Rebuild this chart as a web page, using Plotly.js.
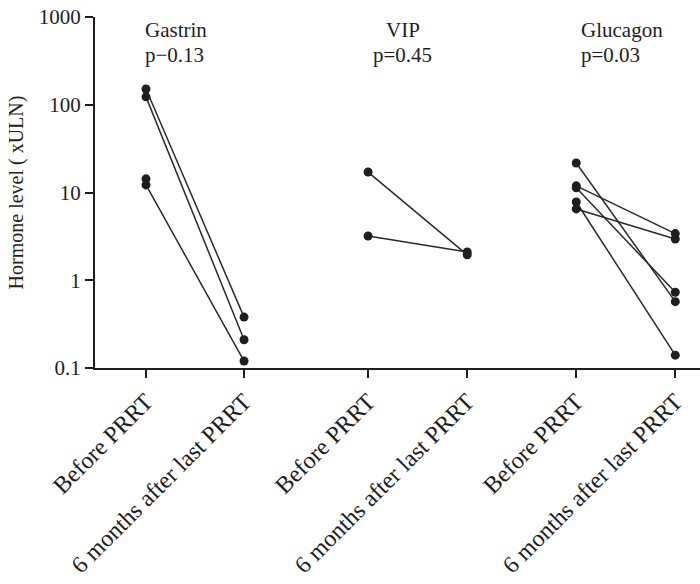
<!DOCTYPE html>
<html>
<head>
<meta charset="utf-8">
<script src="https://cdn.plot.ly/plotly-3.0.1.min.js"></script>
<style>html,body{margin:0;padding:0;background:#fff;}#chart{width:700px;height:584px;}</style>
</head>
<body>
<div id="chart"></div>
<script>
// ---- data ----
const groups = ['Gastrin', 'VIP', 'Glucagon'];
const pValues = ['p\u22120.13', 'p=0.45', 'p=0.03'];
const tickLabels = ['Before PRRT', '6 months after last PRRT',
                    'Before PRRT', '6 months after last PRRT',
                    'Before PRRT', '6 months after last PRRT'];

const gastrinBefore  = [151, 123, 14.3, 12.2];
const gastrinAfter   = [0.38, 0.21, null, 0.12];
const vipBefore      = [17.1, 3.19];
const vipAfter       = [1.95, 2.1];
const glucagonBefore = [21.7, 11.9, 11.3, 7.8, 6.5];
const glucagonAfter  = [0.57, 3.4, 0.73, 0.14, 2.95];

const yTickVals  = [0.1, 1, 10, 100, 1000];
const yTickText  = ['0.1', '1', '10', '100', '1000'];

// ---- layout helpers (positions on the category axis) ----
const catPos = [0, 1, 2.265, 3.276, 4.388, 5.398];
const labelX = [-0.03, 2.62, 4.42];
const labelAnchor = ['left', 'center', 'left'];

const seriesData = [
  {before: gastrinBefore, after: gastrinAfter, pos: [catPos[0], catPos[1]]},
  {before: vipBefore, after: vipAfter, pos: [catPos[2], catPos[3]]},
  {before: glucagonBefore, after: glucagonAfter, pos: [catPos[4], catPos[5]]}
];

const traces = [];
seriesData.forEach(function (g) {
  g.before.forEach(function (b, i) {
    const a = g.after[i];
    traces.push({
      type: 'scatter',
      mode: 'lines+markers',
      x: a === null ? [g.pos[0]] : [g.pos[0], g.pos[1]],
      y: a === null ? [b] : [b, a],
      line: {color: '#2a2a2a', width: 1.5},
      marker: {color: '#1e1e1e', size: 9},
      showlegend: false,
      hoverinfo: 'x+y'
    });
  });
});

const fam = '"Liberation Serif", "Times New Roman", serif';
const font = {family: fam, size: 21, color: '#1e1e1e'};
const xTickFont = {family: fam, size: 24, color: '#1e1e1e'};

const layout = {
  width: 700, height: 584,
  margin: {l: 95, r: 0, t: 17, b: 216},
  paper_bgcolor: '#ffffff', plot_bgcolor: '#ffffff',
  font: font,
  showlegend: false,
  xaxis: {
    range: [-0.52, 5.65],
    tickmode: 'array', tickvals: catPos, ticktext: tickLabels,
    tickangle: -45,
    ticks: 'outside', ticklen: 8, tickwidth: 2, tickcolor: '#1e1e1e',
    showline: true, linecolor: '#1e1e1e', linewidth: 2,
    showgrid: false, zeroline: false,
    tickfont: xTickFont
  },
  yaxis: {
    type: 'log', range: [-1, 3],
    tickmode: 'array', tickvals: yTickVals, ticktext: yTickText,
    ticks: 'outside', ticklen: 8, tickwidth: 2, tickcolor: '#1e1e1e',
    showline: true, linecolor: '#1e1e1e', linewidth: 2,
    showgrid: false, zeroline: false,
    tickfont: font,
    title: {text: 'Hormone level ( xULN)', font: {family: fam, size: 20, color: '#1e1e1e'}, standoff: 10}
  },
  annotations: []
};

const plotTopPx = 17, plotH = 584 - 17 - 216;
function paperY(px) { return 1 - (px - plotTopPx) / plotH; }
groups.forEach(function (name, i) {
  layout.annotations.push({
    x: labelX[i], xref: 'x', y: paperY(30), yref: 'paper', yanchor: 'middle',
    xanchor: labelAnchor[i], showarrow: false, text: name, font: font
  });
  layout.annotations.push({
    x: labelX[i], xref: 'x', y: paperY(55), yref: 'paper', yanchor: 'middle',
    xanchor: labelAnchor[i], showarrow: false, text: pValues[i], font: font
  });
});

Plotly.newPlot('chart', traces, layout, {displayModeBar: false, staticPlot: true});
</script>
</body>
</html>
